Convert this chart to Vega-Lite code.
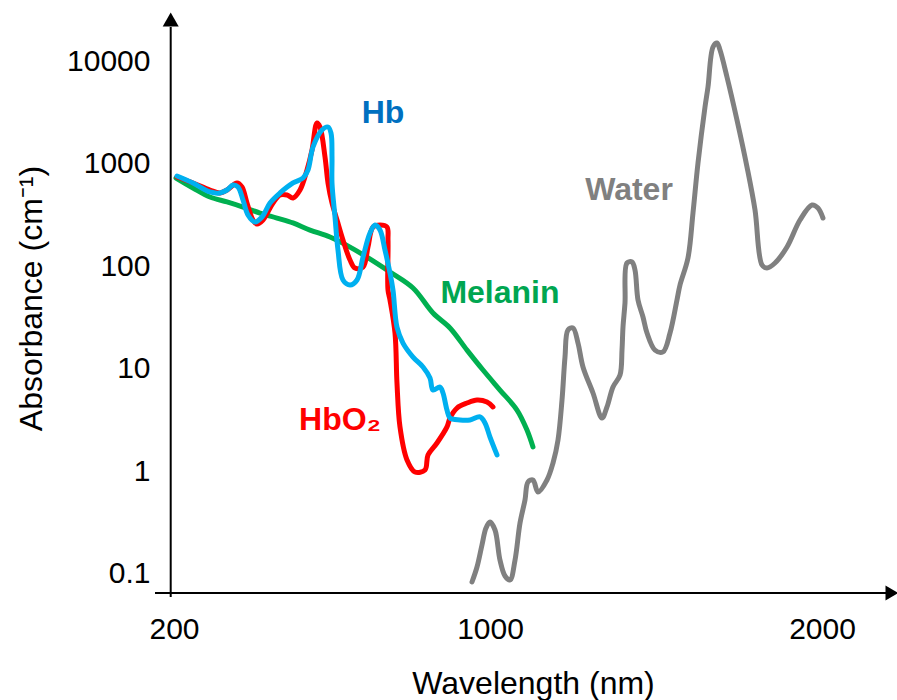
{
  "$schema": "https://vega.github.io/schema/vega-lite/v6.json",
  "autosize": {"type": "none"},
  "width": 726,
  "height": 566,
  "padding": {"left": 171, "top": 27, "right": 0, "bottom": 107},
  "background": "white",
  "config": {"view": {"stroke": null}, "font": "Liberation Sans"},
  "datasets": {
    "curves": [
      {"s":"Water","wl":954.4,"abs":0.0826,"i":0},{"s":"Water","wl":967.1,"abs":0.1157,"i":1},{"s":"Water","wl":979.7,"abs":0.19,"i":2},{"s":"Water","wl":989.9,"abs":0.278,"i":3},{"s":"Water","wl":1000,"abs":0.318,"i":4},{"s":"Water","wl":1015.1,"abs":0.266,"i":5},{"s":"Water","wl":1030.1,"abs":0.135,"i":6},{"s":"Water","wl":1045.2,"abs":0.0945,"i":7},{"s":"Water","wl":1060.2,"abs":0.0864,"i":8},{"s":"Water","wl":1075.3,"abs":0.135,"i":9},{"s":"Water","wl":1090.4,"abs":0.311,"i":10},{"s":"Water","wl":1105.4,"abs":0.522,"i":11},{"s":"Water","wl":1114.5,"abs":0.783,"i":12},{"s":"Water","wl":1129.5,"abs":0.819,"i":13},{"s":"Water","wl":1144.6,"abs":0.625,"i":14},{"s":"Water","wl":1171.7,"abs":0.819,"i":15},{"s":"Water","wl":1189.8,"abs":1.2,"i":16},{"s":"Water","wl":1204.8,"abs":2.01,"i":17},{"s":"Water","wl":1216.9,"abs":4.95,"i":18},{"s":"Water","wl":1225.9,"abs":13.0,"i":19},{"s":"Water","wl":1234.9,"abs":23.9,"i":20},{"s":"Water","wl":1250.0,"abs":25.0,"i":21},{"s":"Water","wl":1265.1,"abs":17.8,"i":22},{"s":"Water","wl":1280.1,"abs":10.4,"i":23},{"s":"Water","wl":1310.2,"abs":5.79,"i":24},{"s":"Water","wl":1337.3,"abs":3.3,"i":25},{"s":"Water","wl":1352.4,"abs":4.23,"i":26},{"s":"Water","wl":1370.5,"abs":6.63,"i":27},{"s":"Water","wl":1391.6,"abs":8.68,"i":28},{"s":"Water","wl":1397.6,"abs":15.2,"i":29},{"s":"Water","wl":1400.6,"abs":25.5,"i":30},{"s":"Water","wl":1406.6,"abs":43.8,"i":31},{"s":"Water","wl":1412.6,"abs":107.7,"i":32},{"s":"Water","wl":1427.7,"abs":110.2,"i":33},{"s":"Water","wl":1436.7,"abs":92.0,"i":34},{"s":"Water","wl":1445.8,"abs":46.9,"i":35},{"s":"Water","wl":1460.8,"abs":32.0,"i":36},{"s":"Water","wl":1472.9,"abs":22.3,"i":37},{"s":"Water","wl":1497.0,"abs":15.2,"i":38},{"s":"Water","wl":1521.0,"abs":14.6,"i":39},{"s":"Water","wl":1542.2,"abs":22.3,"i":40},{"s":"Water","wl":1563.2,"abs":46.9,"i":41},{"s":"Water","wl":1572.3,"abs":65.7,"i":42},{"s":"Water","wl":1596.3,"abs":120.5,"i":43},{"s":"Water","wl":1611.4,"abs":331.5,"i":44},{"s":"Water","wl":1626.5,"abs":1020,"i":45},{"s":"Water","wl":1647.6,"abs":3595,"i":46},{"s":"Water","wl":1656.6,"abs":5636,"i":47},{"s":"Water","wl":1671.7,"abs":13850,"i":48},{"s":"Water","wl":1683.7,"abs":15160,"i":49},{"s":"Water","wl":1692.8,"abs":12950,"i":50},{"s":"Water","wl":1713.8,"abs":7056,"i":51},{"s":"Water","wl":1743.9,"abs":2684,"i":52},{"s":"Water","wl":1774.1,"abs":933,"i":53},{"s":"Water","wl":1798.2,"abs":355,"i":54},{"s":"Water","wl":1819.3,"abs":103,"i":55},{"s":"Water","wl":1834.3,"abs":96.2,"i":56},{"s":"Water","wl":1858.4,"abs":107.7,"i":57},{"s":"Water","wl":1894.6,"abs":154.4,"i":58},{"s":"Water","wl":1933.7,"abs":283,"i":59},{"s":"Water","wl":1969.9,"abs":397,"i":60},{"s":"Water","wl":1987.9,"abs":371,"i":61},{"s":"Water","wl":2003.0,"abs":296,"i":62},
      {"s":"Melanin","wl":205.1,"abs":728,"i":0},{"s":"Melanin","wl":248.1,"abs":582,"i":1},{"s":"Melanin","wl":291.1,"abs":475,"i":2},{"s":"Melanin","wl":334.2,"abs":425,"i":3},{"s":"Melanin","wl":374.7,"abs":379,"i":4},{"s":"Melanin","wl":417.7,"abs":331,"i":5},{"s":"Melanin","wl":460.8,"abs":296,"i":6},{"s":"Melanin","wl":501.3,"abs":265,"i":7},{"s":"Melanin","wl":544.3,"abs":226,"i":8},{"s":"Melanin","wl":594.9,"abs":193,"i":9},{"s":"Melanin","wl":645.6,"abs":154,"i":10},{"s":"Melanin","wl":688.6,"abs":123,"i":11},{"s":"Melanin","wl":746.8,"abs":88,"i":12},{"s":"Melanin","wl":805.1,"abs":61.4,"i":13},{"s":"Melanin","wl":855.7,"abs":35.0,"i":14},{"s":"Melanin","wl":898.7,"abs":25.0,"i":15},{"s":"Melanin","wl":941.8,"abs":15.2,"i":16},{"s":"Melanin","wl":982.3,"abs":9.71,"i":17},{"s":"Melanin","wl":1030.1,"abs":6.19,"i":18},{"s":"Melanin","wl":1081.3,"abs":3.95,"i":19},{"s":"Melanin","wl":1111.4,"abs":2.52,"i":20},{"s":"Melanin","wl":1129.5,"abs":1.72,"i":21},
      {"s":"HbO2","wl":207.6,"abs":745,"i":0},{"s":"HbO2","wl":248.1,"abs":651,"i":1},{"s":"HbO2","wl":291.1,"abs":556,"i":2},{"s":"HbO2","wl":316.5,"abs":520,"i":3},{"s":"HbO2","wl":334.2,"abs":556,"i":4},{"s":"HbO2","wl":359.5,"abs":651,"i":5},{"s":"HbO2","wl":372.1,"abs":595,"i":6},{"s":"HbO2","wl":384.8,"abs":415,"i":7},{"s":"HbO2","wl":400.0,"abs":283,"i":8},{"s":"HbO2","wl":410.1,"abs":259,"i":9},{"s":"HbO2","wl":425.3,"abs":283,"i":10},{"s":"HbO2","wl":450.6,"abs":415,"i":11},{"s":"HbO2","wl":468.4,"abs":497,"i":12},{"s":"HbO2","wl":486.1,"abs":497,"i":13},{"s":"HbO2","wl":501.3,"abs":465,"i":14},{"s":"HbO2","wl":519.0,"abs":556,"i":15},{"s":"HbO2","wl":536.7,"abs":872,"i":16},{"s":"HbO2","wl":549.4,"abs":1367,"i":17},{"s":"HbO2","wl":562.0,"abs":2508,"i":18},{"s":"HbO2","wl":569.6,"abs":2293,"i":19},{"s":"HbO2","wl":582.3,"abs":1168,"i":20},{"s":"HbO2","wl":589.9,"abs":651,"i":21},{"s":"HbO2","wl":600.0,"abs":415,"i":22},{"s":"HbO2","wl":612.7,"abs":283,"i":23},{"s":"HbO2","wl":627.8,"abs":180.6,"i":24},{"s":"HbO2","wl":645.6,"abs":115.2,"i":25},{"s":"HbO2","wl":658.2,"abs":96.2,"i":26},{"s":"HbO2","wl":678.5,"abs":98.4,"i":27},{"s":"HbO2","wl":691.1,"abs":154.4,"i":28},{"s":"HbO2","wl":703.8,"abs":242,"i":29},{"s":"HbO2","wl":721.5,"abs":253,"i":30},{"s":"HbO2","wl":739.2,"abs":242,"i":31},{"s":"HbO2","wl":741.8,"abs":180.6,"i":32},{"s":"HbO2","wl":741.8,"abs":58.7,"i":33},{"s":"HbO2","wl":746.8,"abs":46.9,"i":34},{"s":"HbO2","wl":759.5,"abs":22.3,"i":35},{"s":"HbO2","wl":764.5,"abs":7.25,"i":36},{"s":"HbO2","wl":772.1,"abs":2.7,"i":37},{"s":"HbO2","wl":789.9,"abs":1.284,"i":38},{"s":"HbO2","wl":810.1,"abs":0.98,"i":39},{"s":"HbO2","wl":835.4,"abs":1.025,"i":40},{"s":"HbO2","wl":843.0,"abs":1.436,"i":41},{"s":"HbO2","wl":865.8,"abs":1.881,"i":42},{"s":"HbO2","wl":891.1,"abs":2.7,"i":43},{"s":"HbO2","wl":898.7,"abs":3.3,"i":44},{"s":"HbO2","wl":916.4,"abs":4.13,"i":45},{"s":"HbO2","wl":941.8,"abs":4.62,"i":46},{"s":"HbO2","wl":967.1,"abs":4.95,"i":47},{"s":"HbO2","wl":992.4,"abs":4.73,"i":48},{"s":"HbO2","wl":1009.0,"abs":4.23,"i":49},
      {"s":"Hb","wl":207.6,"abs":762,"i":0},{"s":"Hb","wl":248.1,"abs":651,"i":1},{"s":"Hb","wl":291.1,"abs":532,"i":2},{"s":"Hb","wl":316.5,"abs":520,"i":3},{"s":"Hb","wl":334.2,"abs":556,"i":4},{"s":"Hb","wl":349.4,"abs":622,"i":5},{"s":"Hb","wl":362.0,"abs":595,"i":6},{"s":"Hb","wl":374.7,"abs":444,"i":7},{"s":"Hb","wl":387.3,"abs":317,"i":8},{"s":"Hb","wl":405.1,"abs":271,"i":9},{"s":"Hb","wl":422.8,"abs":303,"i":10},{"s":"Hb","wl":443.0,"abs":415,"i":11},{"s":"Hb","wl":468.4,"abs":520,"i":12},{"s":"Hb","wl":501.3,"abs":651,"i":13},{"s":"Hb","wl":526.6,"abs":728,"i":14},{"s":"Hb","wl":539.2,"abs":872,"i":15},{"s":"Hb","wl":551.9,"abs":1462,"i":16},{"s":"Hb","wl":574.7,"abs":2144,"i":17},{"s":"Hb","wl":589.9,"abs":2293,"i":18},{"s":"Hb","wl":597.5,"abs":2003,"i":19},{"s":"Hb","wl":600.0,"abs":1168,"i":20},{"s":"Hb","wl":600.0,"abs":651,"i":21},{"s":"Hb","wl":607.6,"abs":303,"i":22},{"s":"Hb","wl":615.2,"abs":144,"i":23},{"s":"Hb","wl":627.8,"abs":73.5,"i":24},{"s":"Hb","wl":645.6,"abs":65.7,"i":25},{"s":"Hb","wl":663.3,"abs":73.5,"i":26},{"s":"Hb","wl":678.5,"abs":123,"i":27},{"s":"Hb","wl":696.2,"abs":211.5,"i":28},{"s":"Hb","wl":708.9,"abs":253,"i":29},{"s":"Hb","wl":721.5,"abs":226,"i":30},{"s":"Hb","wl":734.2,"abs":144,"i":31},{"s":"Hb","wl":746.8,"abs":86.0,"i":32},{"s":"Hb","wl":754.4,"abs":58.7,"i":33},{"s":"Hb","wl":764.5,"abs":25.5,"i":34},{"s":"Hb","wl":779.7,"abs":17.8,"i":35},{"s":"Hb","wl":805.1,"abs":13.0,"i":36},{"s":"Hb","wl":830.4,"abs":10.4,"i":37},{"s":"Hb","wl":848.1,"abs":8.11,"i":38},{"s":"Hb","wl":855.7,"abs":6.19,"i":39},{"s":"Hb","wl":873.4,"abs":6.63,"i":40},{"s":"Hb","wl":881.0,"abs":5.79,"i":41},{"s":"Hb","wl":891.1,"abs":3.95,"i":42},{"s":"Hb","wl":898.7,"abs":3.3,"i":43},{"s":"Hb","wl":924.0,"abs":3.16,"i":44},{"s":"Hb","wl":949.4,"abs":3.16,"i":45},{"s":"Hb","wl":974.7,"abs":3.38,"i":46},{"s":"Hb","wl":987.3,"abs":2.95,"i":47},{"s":"Hb","wl":1000,"abs":2.15,"i":48},{"s":"Hb","wl":1021.1,"abs":1.44,"i":49}
    ],
    "labels": [
      {"label":"Hb","wl":729.1,"abs":2508},
      {"label":"Water","wl":1418.7,"abs":444},
      {"label":"Melanin","wl":1030,"abs":43.8},
      {"label":"HbO₂","wl":620.2,"abs":2.52}
    ],
    "xline": [{"wl":151.9,"wl2":2195.8,"abs":0.0645}],
    "yline": [{"wl":191.65,"abs":0.0589,"abs2":21725}],
    "xarrow": [{"wl":2210.8,"abs":0.0645}],
    "yarrow": [{"wl":191.65,"abs":25720}]
  },
  "resolve": {"scale": {"color": "independent"}},
  "layer": [
    {
      "data": {"name": "curves"},
      "mark": {"type": "line", "strokeWidth": 5, "strokeCap": "round", "strokeJoin": "round", "interpolate": "catmull-rom", "clip": false},
      "encoding": {
        "x": {"field": "wl", "type": "quantitative",
              "scale": {"type": "linear", "domain": [200, 1000, 2000], "range": [3, 319, 651], "nice": false, "zero": false},
              "axis": {"values": [200, 1000, 2000], "format": "d", "domain": false, "ticks": false, "tickSize": 0, "grid": false,
                       "labelFontSize": 30, "labelFont": "Liberation Sans", "labelColor": "#000000", "labelPadding": 36, "labelBaseline": "middle",
                       "labelFlush": false, "labelOverlap": false,
                       "title": "Wavelength (nm)", "titleFontSize": 32, "titleFont": "Liberation Sans", "titleFontWeight": "normal", "titleColor": "#000000",
                       "titleX": 362, "titleY": 90, "titleAlign": "center", "titleBaseline": "middle", "titleAnchor": null}},
        "y": {"field": "abs", "type": "quantitative",
              "scale": {"type": "log", "domain": [0.0645, 21725], "nice": false},
              "axis": {"values": [0.1, 1, 10, 100, 1000, 10000], "format": "~g", "domain": false, "ticks": false, "tickSize": 0, "grid": false,
                       "labelFontSize": 30, "labelFont": "Liberation Sans", "labelColor": "#000000", "labelPadding": 21,
                       "labelFlush": false, "labelOverlap": false,
                       "title": "Absorbance (cm⁻¹)", "titleFontSize": 32, "titleFont": "Liberation Sans", "titleFontWeight": "normal", "titleColor": "#000000",
                       "titleX": -140, "titleY": 271, "titleAlign": "center", "titleBaseline": "middle", "titleAngle": 270}},
        "color": {"field": "s", "type": "nominal", "legend": null,
                  "scale": {"domain": ["Water", "Melanin", "HbO2", "Hb"], "range": ["#808080", "#00B050", "#FF0000", "#00B0F0"]}},
        "order": {"field": "i", "type": "quantitative"}
      }
    },
    {
      "data": {"name": "labels"},
      "mark": {"type": "text", "font": "Liberation Sans", "fontWeight": "bold", "fontSize": 32, "align": "center", "baseline": "alphabetic"},
      "encoding": {
        "x": {"field": "wl", "type": "quantitative"},
        "y": {"field": "abs", "type": "quantitative"},
        "text": {"field": "label"},
        "color": {"field": "label", "type": "nominal", "legend": null,
                  "scale": {"domain": ["Hb", "Water", "Melanin", "HbO₂"], "range": ["#0070C0", "#808080", "#00A651", "#FF0000"]}}
      }
    },
    {
      "data": {"name": "xline"},
      "mark": {"type": "rule", "color": "#000000", "strokeWidth": 2},
      "encoding": {
        "x": {"field": "wl", "type": "quantitative"},
        "x2": {"field": "wl2"},
        "y": {"field": "abs", "type": "quantitative"}
      }
    },
    {
      "data": {"name": "yline"},
      "mark": {"type": "rule", "color": "#000000", "strokeWidth": 2},
      "encoding": {
        "x": {"field": "wl", "type": "quantitative"},
        "y": {"field": "abs", "type": "quantitative"},
        "y2": {"field": "abs2"}
      }
    },
    {
      "data": {"name": "xarrow"},
      "mark": {"type": "point", "shape": "triangle-right", "size": 225, "filled": true, "color": "#000000", "opacity": 1},
      "encoding": {
        "x": {"field": "wl", "type": "quantitative"},
        "y": {"field": "abs", "type": "quantitative"}
      }
    },
    {
      "data": {"name": "yarrow"},
      "mark": {"type": "point", "shape": "triangle-up", "size": 256, "filled": true, "color": "#000000", "opacity": 1},
      "encoding": {
        "x": {"field": "wl", "type": "quantitative"},
        "y": {"field": "abs", "type": "quantitative"}
      }
    }
  ]
}
